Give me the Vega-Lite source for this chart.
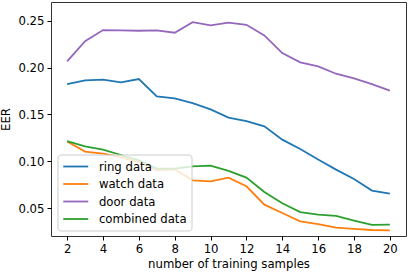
{
  "$schema": "https://vega.github.io/schema/vega-lite/v6.json",
  "width": 355,
  "height": 234,
  "autosize": "none",
  "padding": {"left": 51, "top": 2, "right": 3, "bottom": 37},
  "background": "white",
  "config": {
    "font": "DejaVu Sans",
    "view": {"stroke": "#333", "strokeWidth": 1},
    "axis": {
      "grid": false,
      "domain": false,
      "tickColor": "#000",
      "tickSize": 4,
      "tickWidth": 1,
      "labelColor": "#000",
      "labelFontSize": 11.7,
      "labelFont": "DejaVu Sans",
      "labelPadding": 3,
      "titleColor": "#000",
      "titleFontSize": 11.7,
      "titleFontWeight": "normal",
      "titleFont": "DejaVu Sans"
    }
  },
  "data": {
    "values": [
      {"x": 2, "series": "ring data", "eer": 0.1823},
      {"x": 3, "series": "ring data", "eer": 0.1863},
      {"x": 4, "series": "ring data", "eer": 0.1870},
      {"x": 5, "series": "ring data", "eer": 0.1842},
      {"x": 6, "series": "ring data", "eer": 0.1877},
      {"x": 7, "series": "ring data", "eer": 0.1692},
      {"x": 8, "series": "ring data", "eer": 0.1671},
      {"x": 9, "series": "ring data", "eer": 0.1621},
      {"x": 10, "series": "ring data", "eer": 0.1553},
      {"x": 11, "series": "ring data", "eer": 0.1466},
      {"x": 12, "series": "ring data", "eer": 0.1429},
      {"x": 13, "series": "ring data", "eer": 0.1372},
      {"x": 14, "series": "ring data", "eer": 0.1230},
      {"x": 15, "series": "ring data", "eer": 0.1130},
      {"x": 16, "series": "ring data", "eer": 0.1017},
      {"x": 17, "series": "ring data", "eer": 0.0910},
      {"x": 18, "series": "ring data", "eer": 0.0810},
      {"x": 19, "series": "ring data", "eer": 0.0686},
      {"x": 20, "series": "ring data", "eer": 0.0654},
      {"x": 2, "series": "watch data", "eer": 0.1210},
      {"x": 3, "series": "watch data", "eer": 0.1102},
      {"x": 4, "series": "watch data", "eer": 0.1081},
      {"x": 5, "series": "watch data", "eer": 0.1044},
      {"x": 6, "series": "watch data", "eer": 0.0991},
      {"x": 7, "series": "watch data", "eer": 0.0902},
      {"x": 8, "series": "watch data", "eer": 0.0913},
      {"x": 9, "series": "watch data", "eer": 0.0796},
      {"x": 10, "series": "watch data", "eer": 0.0785},
      {"x": 11, "series": "watch data", "eer": 0.0824},
      {"x": 12, "series": "watch data", "eer": 0.0732},
      {"x": 13, "series": "watch data", "eer": 0.0536},
      {"x": 14, "series": "watch data", "eer": 0.0447},
      {"x": 15, "series": "watch data", "eer": 0.0358},
      {"x": 16, "series": "watch data", "eer": 0.0329},
      {"x": 17, "series": "watch data", "eer": 0.0291},
      {"x": 18, "series": "watch data", "eer": 0.0276},
      {"x": 19, "series": "watch data", "eer": 0.0265},
      {"x": 20, "series": "watch data", "eer": 0.0262},
      {"x": 2, "series": "door data", "eer": 0.2066},
      {"x": 3, "series": "door data", "eer": 0.2282},
      {"x": 4, "series": "door data", "eer": 0.2400},
      {"x": 5, "series": "door data", "eer": 0.2397},
      {"x": 6, "series": "door data", "eer": 0.2393},
      {"x": 7, "series": "door data", "eer": 0.2397},
      {"x": 8, "series": "door data", "eer": 0.2372},
      {"x": 9, "series": "door data", "eer": 0.2485},
      {"x": 10, "series": "door data", "eer": 0.2450},
      {"x": 11, "series": "door data", "eer": 0.2479},
      {"x": 12, "series": "door data", "eer": 0.2457},
      {"x": 13, "series": "door data", "eer": 0.2343},
      {"x": 14, "series": "door data", "eer": 0.2154},
      {"x": 15, "series": "door data", "eer": 0.2055},
      {"x": 16, "series": "door data", "eer": 0.2012},
      {"x": 17, "series": "door data", "eer": 0.1934},
      {"x": 18, "series": "door data", "eer": 0.1884},
      {"x": 19, "series": "door data", "eer": 0.1823},
      {"x": 20, "series": "door data", "eer": 0.1753},
      {"x": 2, "series": "combined data", "eer": 0.1215},
      {"x": 3, "series": "combined data", "eer": 0.1158},
      {"x": 4, "series": "combined data", "eer": 0.1123},
      {"x": 5, "series": "combined data", "eer": 0.1066},
      {"x": 6, "series": "combined data", "eer": 0.1009},
      {"x": 7, "series": "combined data", "eer": 0.0920},
      {"x": 8, "series": "combined data", "eer": 0.0920},
      {"x": 9, "series": "combined data", "eer": 0.0945},
      {"x": 10, "series": "combined data", "eer": 0.0952},
      {"x": 11, "series": "combined data", "eer": 0.0897},
      {"x": 12, "series": "combined data", "eer": 0.0824},
      {"x": 13, "series": "combined data", "eer": 0.0671},
      {"x": 14, "series": "combined data", "eer": 0.0550},
      {"x": 15, "series": "combined data", "eer": 0.0457},
      {"x": 16, "series": "combined data", "eer": 0.0430},
      {"x": 17, "series": "combined data", "eer": 0.0415},
      {"x": 18, "series": "combined data", "eer": 0.0366},
      {"x": 19, "series": "combined data", "eer": 0.0319},
      {"x": 20, "series": "combined data", "eer": 0.0323}
    ]
  },
  "mark": {"type": "line", "strokeWidth": 1.8, "clip": true},
  "encoding": {
    "x": {
      "field": "x",
      "type": "quantitative",
      "title": "number of training samples",
      "scale": {"domain": [1.1, 20.9], "nice": false, "zero": false},
      "axis": {"values": [2, 4, 6, 8, 10, 12, 14, 16, 18, 20], "titlePadding": 4}
    },
    "y": {
      "field": "eer",
      "type": "quantitative",
      "title": "EER",
      "scale": {"domain": [0.0201, 0.27], "nice": false, "zero": false},
      "axis": {"values": [0.05, 0.1, 0.15, 0.2, 0.25], "format": ".2f", "titlePadding": 6}
    },
    "color": {
      "field": "series",
      "type": "nominal",
      "title": null,
      "scale": {
        "domain": ["ring data", "watch data", "door data", "combined data"],
        "range": ["#1f77b4", "#ff7f0e", "#9467bd", "#2ca02c"]
      },
      "legend": {
        "orient": "none",
        "legendX": 6.5,
        "legendY": 152.5,
        "symbolType": "M-1,0H3",
        "symbolSize": 156.25,
        "symbolStrokeWidth": 1.8,
        "labelFontSize": 11.7,
        "labelFont": "DejaVu Sans",
        "labelColor": "#000",
        "labelOffset": 21.9,
        "rowPadding": 2.5,
        "padding": 4.5,
        "fillColor": "rgba(255,255,255,0.8)",
        "strokeColor": "#cccccc",
        "cornerRadius": 3
      }
    }
  }
}
